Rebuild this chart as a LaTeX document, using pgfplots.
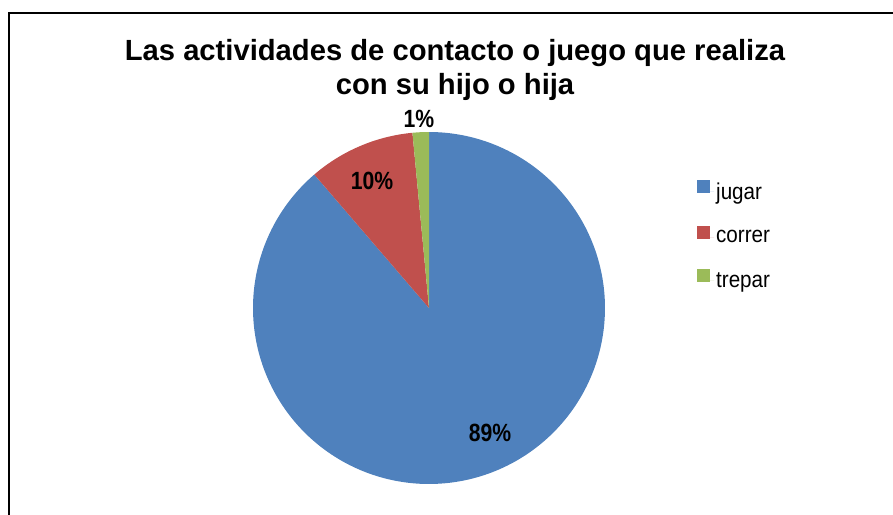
\documentclass[border=0pt]{standalone}
\usepackage{pgfplots}
\pgfplotsset{compat=1.18}
\usepackage{fontspec}
\setmainfont{Liberation Sans}
\newfontfamily\narrowfont[FakeStretch=0.85]{Liberation Sans}
\newfontfamily\legfont[FakeStretch=0.9]{Liberation Sans}
\definecolor{cjugar}{HTML}{4F81BD}
\definecolor{ccorrer}{HTML}{C0504D}
\definecolor{ctrepar}{HTML}{9BBB59}
% data (percent)
\def\vA{88.7}
\def\vB{9.8}
\def\vC{1.5}
\pgfmathsetmacro\aA{90-3.6*\vA}
\pgfmathsetmacro\aB{\aA-3.6*\vB}
\pgfmathsetmacro\aC{\aB-3.6*\vC}
\begin{document}
\begin{tikzpicture}
\path[use as bounding box] (0,0) rectangle (893bp,515bp);
\begin{axis}[
  at={(0,0)}, anchor=origin,
  x=1bp, y=1bp, xmin=0, xmax=893, ymin=0, ymax=515,
  hide axis, clip=false,
  area legend,
  legend image code/.code={\fill[#1] (0bp,-1.5bp) rectangle (13bp,11.5bp); \path (0bp,0bp) -- (17bp,0bp);},
  legend style={at={(axis cs:694,337)}, anchor=north west, draw=none, fill=none,
    font=\legfont\fontsize{23}{27}\selectfont, row sep=23bp,
    cells={anchor=west}},
]
\addplot[fill=cjugar, draw=none, domain=\aA:90, samples=240, variable=\t]
  ({429+176*cos(\t)},{207+176*sin(\t)}) -- (axis cs:429,207) -- cycle;
\addlegendentry{jugar}
\addplot[fill=ccorrer, draw=none, domain=\aB:\aA, samples=40, variable=\t]
  ({429+176*cos(\t)},{207+176*sin(\t)}) -- (axis cs:429,207) -- cycle;
\addlegendentry{correr}
\addplot[fill=ctrepar, draw=none, domain=\aC:\aB, samples=10, variable=\t]
  ({429+176*cos(\t)},{207+176*sin(\t)}) -- (axis cs:429,207) -- cycle;
\addlegendentry{trepar}
% frame
\draw[line width=1.5bp] (axis cs:9,0) -- (axis cs:9,502) -- (axis cs:893,502);
% title
\node[anchor=base, font=\bfseries\fontsize{29.3}{34}\selectfont] at (axis cs:455,454) {Las actividades de contacto o juego que realiza};
\node[anchor=base, font=\bfseries\fontsize{29.3}{34}\selectfont] at (axis cs:455,420) {con su hijo o hija};
% labels
\node[font=\narrowfont\bfseries\fontsize{25}{30}\selectfont] at (axis cs:490,82) {89\%};
\node[font=\narrowfont\bfseries\fontsize{25}{30}\selectfont] at (axis cs:372,334) {10\%};
\node[font=\narrowfont\bfseries\fontsize{25}{30}\selectfont] at (axis cs:419,396) {1\%};
\end{axis}
\end{tikzpicture}
\end{document}
